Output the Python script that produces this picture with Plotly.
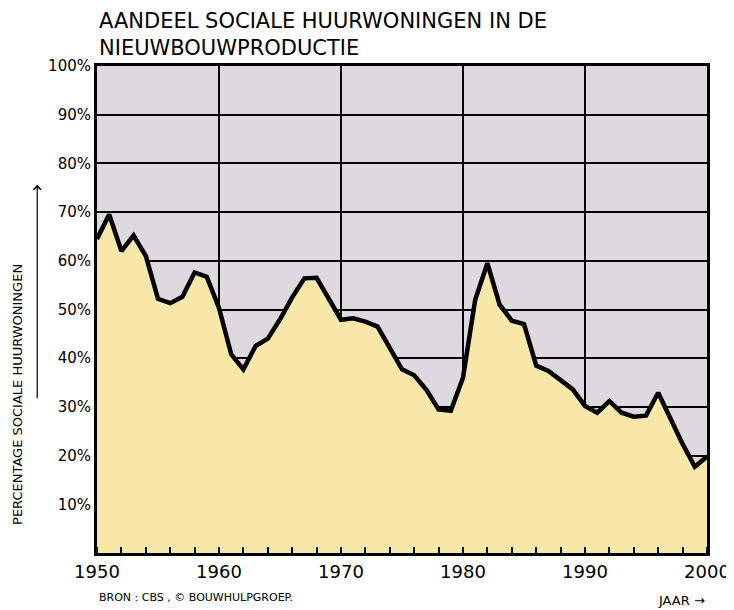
import plotly.graph_objects as go

years = list(range(1950, 2001))
share = [64.5, 69.5, 62.0, 65.2, 61.0, 52.2, 51.3, 52.6, 57.6, 56.7,
         50.3, 40.8, 37.7, 42.5, 44.0, 48.0, 52.5, 56.4, 56.5, 52.0,
         47.9, 48.2, 47.5, 46.5, 42.0, 37.7, 36.5, 33.5, 29.5, 29.2,
         36.0, 52.0, 59.5, 51.0, 47.7, 47.0, 38.5, 37.4, 35.5, 33.6,
         30.2, 28.8, 31.2, 28.8, 28.0, 28.2, 32.9, 27.5, 22.4, 17.7,
         19.8]
ytick_vals = [10, 20, 30, 40, 50, 60, 70, 80, 90, 100]
ytick_text = ["10%", "20%", "30%", "40%", "50%", "60%", "70%", "80%", "90%", "100%"]
xtick_vals = [1950, 1960, 1970, 1980, 1990, 2000]

FONT = "DejaVu Sans"

fig = go.Figure()
fig.add_trace(go.Scatter(
    x=years, y=share, mode="lines",
    line=dict(color="black", width=4.5),
    fill="tozeroy", fillcolor="#f7e7a9",
    hoverinfo="x+y", showlegend=False,
))

fig.update_layout(
    width=726, height=602,
    margin=dict(l=89, r=27, t=58, b=57, autoexpand=False),
    paper_bgcolor="white",
    plot_bgcolor="#dcdadd",
    font=dict(family=FONT, color="black"),
    xaxis=dict(
        range=[1950, 2000], tickvals=xtick_vals, automargin=False,
        showgrid=True, gridcolor="black", gridwidth=1.6,
        ticks="", tickfont=dict(size=18, family=FONT),
        showline=True, linecolor="black", linewidth=3, mirror=True,
        zeroline=False,
        minor=dict(dtick=2, tick0=1950, ticks="inside", ticklen=6, tickwidth=2,
                   tickcolor="black", showgrid=False),
    ),
    yaxis=dict(
        range=[0, 100], tickvals=ytick_vals, ticktext=ytick_text, automargin=False,
        showgrid=True, gridcolor="black", gridwidth=1.6,
        ticks="", tickfont=dict(size=15, family=FONT),
        showline=True, linecolor="black", linewidth=3, mirror=True,
        zeroline=False,
    ),
)
fig.add_annotation(
    text="AANDEEL SOCIALE HUURWONINGEN IN DE",
    x=0, xref="paper", y=1, yref="paper", xanchor="left", yanchor="middle",
    yshift=45, showarrow=False, align="left",
    font=dict(size=21, family=FONT),
)
fig.add_annotation(
    text="NIEUWBOUWPRODUCTIE",
    x=0, xref="paper", y=1, yref="paper", xanchor="left", yanchor="middle",
    yshift=18, showarrow=False, align="left",
    font=dict(size=21, family=FONT),
)
fig.add_annotation(
    text="PERCENTAGE SOCIALE HUURWONINGEN", textangle=-90,
    x=-0.13, xref="paper", y=0.326, yref="paper",
    xanchor="center", yanchor="middle", showarrow=False,
    font=dict(size=13, family=FONT),
)
fig.add_annotation(
    text="BRON : CBS , © BOUWHULPGROEP.",
    x=0, xref="paper", y=0, yref="paper",
    xanchor="left", yanchor="top", yshift=-36, showarrow=False,
    font=dict(size=11, family=FONT),
)
fig.add_annotation(
    text="JAAR →", x=1, xref="paper", y=0, yref="paper",
    xanchor="right", yanchor="top", yshift=-38, showarrow=False,
    font=dict(size=13, family=FONT),
)
fig.add_annotation(
    x=-0.098, xref="paper", y=0.756, yref="paper",
    ax=0, ay=215, axref="pixel", ayref="pixel",
    showarrow=True, arrowhead=4, arrowsize=1.2, arrowwidth=1.2,
    arrowcolor="black", text="",
)

fig.write_html("out.html")
